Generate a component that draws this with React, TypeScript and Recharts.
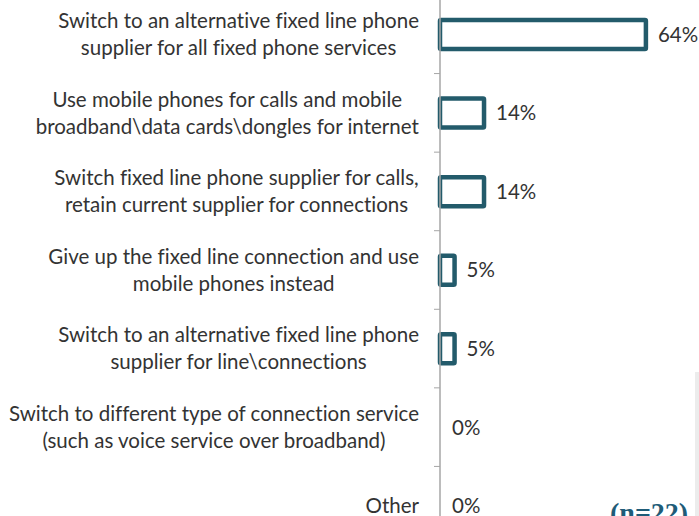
import { BarChart, Bar, XAxis, YAxis } from "recharts";

const categories = [
  "Switch to an alternative fixed line phone\nsupplier for all fixed phone services",
  "Use mobile phones for calls and mobile\nbroadband\\data cards\\dongles for internet",
  "Switch fixed line phone supplier for calls,\nretain current supplier for connections",
  "Give up the fixed line connection and use\nmobile phones instead",
  "Switch to an alternative fixed line phone\nsupplier for line\\connections",
  "Switch to different type of connection service\n(such as voice service over broadband)",
  "Other",
];

// share of respondents (n=22)
const shares = [63.6, 13.6, 13.6, 4.5, 4.5, 0, 0];

const sampleNote = "(n=22)";

const data = categories.map((name, i) => ({ name, share: shares[i] }));

const W = 699;
const H = 560;
const MARGIN = { top: 0, right: 0, bottom: 10, left: 0 };
const AXIS_W = 440;
const BAND = (H - MARGIN.top - MARGIN.bottom) / categories.length;
const FONT = "Lato, 'Open Sans', sans-serif";
const FS = 20.5;
const LINE_H = 27;
const TEXT_COLOR = "#333333";
const BAR_COLOR = "#235B6B";
const AXIS_COLOR = "#a6a6a6";
const SW = 4.5;

let ctx: CanvasRenderingContext2D | null = null;
function measure(s: string) {
  if (!ctx) {
    ctx = document.createElement("canvas").getContext("2d");
    if (ctx) ctx.font = `${FS}px Lato`;
  }
  return ctx ? ctx.measureText(s).width : s.length * FS * 0.48;
}

function CategoryTick(props: any) {
  const { y, payload } = props;
  const lines: string[] = String(payload.value).split("\n");
  const maxW = Math.max(...lines.map(measure));
  const right = AXIS_W - 21;
  const cx = right - maxW / 2;
  return (
    <g>
      <line x1={AXIS_W - 6} x2={AXIS_W} y1={y + BAND / 2} y2={y + BAND / 2} stroke={AXIS_COLOR} strokeWidth={1} />
      <text textAnchor="middle" fontFamily={FONT} fontSize={FS} fill={TEXT_COLOR} style={{ fontVariantLigatures: "none" }}>
        {lines.map((l, i) => (
          <tspan key={i} x={cx} y={y + (i - (lines.length - 1) / 2) * LINE_H} dy="0.35em">
            {l}
          </tspan>
        ))}
      </text>
    </g>
  );
}

// bar outline plus its value label, so that 0% rows keep their label
function OutlinedBar(props: any) {
  const { x, y, width, height, share } = props;
  const w = Number(width) || 0;
  return (
    <g>
      {w > 0 && (
        <rect x={x} y={y} width={w} height={height} rx={1} fill="#fff" stroke={BAR_COLOR} strokeWidth={SW} />
      )}
      <text x={x + w + 12} y={y + height / 2} dy="0.35em" fontFamily={FONT} fontSize={FS} fill={TEXT_COLOR}>
        {`${Math.round(Number(share))}%`}
      </text>
    </g>
  );
}

export default function App() {
  return (
    <div style={{ position: "fixed", left: 0, top: 0, width: W, height: 516, overflow: "hidden", background: "#fff" }}>
      <div style={{ position: "absolute", left: 0, top: -5 }}>
        <BarChart layout="vertical" width={W} height={H} data={data} margin={MARGIN}>
          <XAxis type="number" domain={[0, 80]} hide />
          <YAxis
            type="category"
            dataKey="name"
            width={AXIS_W}
            axisLine={{ stroke: AXIS_COLOR, strokeWidth: 1.5 }}
            tickLine={false}
            tick={<CategoryTick />}
            interval={0}
          />
          <Bar dataKey="share" barSize={29} shape={<OutlinedBar />} isAnimationActive={false} />
        </BarChart>
      </div>
      <div style={{ position: "absolute", left: 695, top: 372, width: 4, height: 144, background: "#ececec" }} />
      <div
        style={{
          position: "absolute",
          left: 610,
          top: 497,
          fontFamily: "'Liberation Serif', serif",
          fontWeight: "bold",
          fontSize: 28,
          color: "#1f5c78",
          whiteSpace: "nowrap",
        }}
      >
        {sampleNote}
      </div>
    </div>
  );
}
